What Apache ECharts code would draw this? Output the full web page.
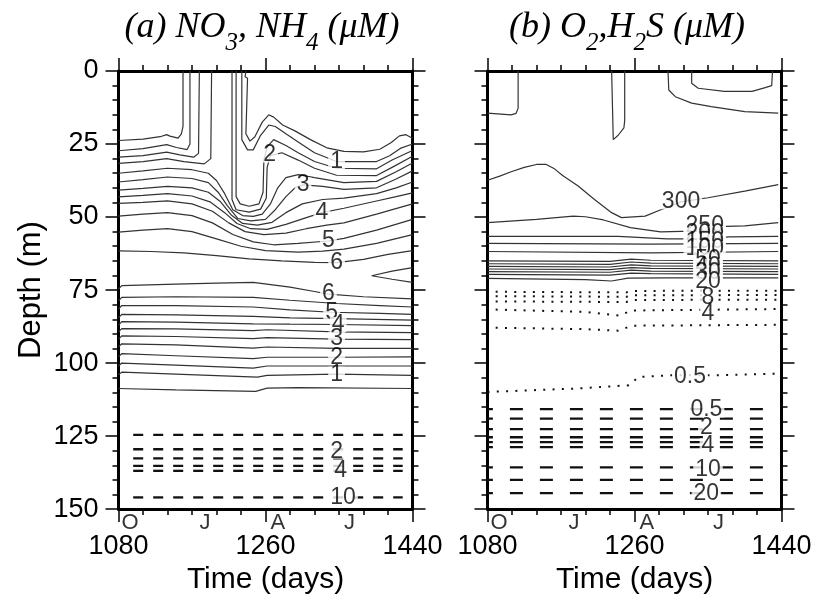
<!DOCTYPE html>
<html><head><meta charset="utf-8">
<script src="https://cdn.jsdelivr.net/npm/echarts@6/dist/echarts.min.js"></script>
<style>html,body{margin:0;padding:0;background:#fff}#c{width:818px;height:600px}</style>
</head><body><div id="c"></div>
<script>
// ================= DATA =================
const dayRange = [1080, 1440];
const depthRange = [0, 150];
const monthTicks = [[1094, 'O'], [1186, 'J'], [1275, 'A'], [1363, 'J']];

// Panel (a): NO3 contours (solid), [level, [[day, depth], ...]]
const no3Upper = [
  [0.5, [[1080,23.8],[1110,23.3],[1131,22.5],[1139,21.8],[1143,22.3],[1153,23],[1157,21.5],[1159,19],[1159,0]]],
  [0.5, [[1236,0],[1235,2],[1238,2.5],[1236,21.5],[1241,24],[1247,22.5],[1256,17.5],[1264,15],[1270,15.8],[1281,18.5],[1296,20.5],[1315,23.5],[1335,26.3],[1356,27.5],[1380,27.7],[1400,26.8],[1414,24.5],[1424,22.2],[1432,21.8],[1440,23]]],
  [1, [[1080,27.3],[1110,26.6],[1139,25.2],[1151,26.2],[1164,26.9],[1167.5,25],[1167.5,0]]],
  [1, [[1231,0],[1231,23.5],[1238,27],[1245,27],[1254,22],[1264,18.5],[1272,19],[1285,21.5],[1300,24.3],[1320,28],[1347,31],[1396,31],[1412,29],[1425,26.5],[1440,25]]],
  [1.5, [[1080,29.5],[1110,29],[1139,27.8],[1155,28.7],[1172,29.5],[1178,28.2],[1179,0]]],
  [1.5, [[1224,0],[1224,43],[1229,45.5],[1240,46.3],[1252,45.5],[1257,41.5],[1258,30.5],[1262,26],[1270,23.5],[1285,25.5],[1300,28],[1320,31],[1347,33.3],[1396,33.5],[1415,30.5],[1440,27.2]]],
  [2, [[1080,31.6],[1110,31],[1139,30],[1160,31],[1185,31.8],[1193,30],[1194,0]]],
  [2, [[1219,0],[1219,44],[1224,47.5],[1240,48.3],[1254,47.3],[1261,43.5],[1262,33],[1266,29],[1280,28],[1300,30.5],[1320,33.3],[1347,35.7],[1396,35.8],[1415,33],[1440,29.2]]],
  [2.5, [[1080,35],[1110,34.2],[1140,33.3],[1170,33.8],[1190,35],[1200,37.5],[1210,42],[1220,47.5],[1232,49.5],[1245,49.8],[1256,49],[1266,45.5],[1275,40],[1285,36.5],[1300,35.5],[1320,36.5],[1356,38.2],[1396,37.8],[1420,34.5],[1440,31.5]]],
  [3, [[1080,38],[1110,37.2],[1140,36.3],[1170,36.8],[1190,38.2],[1202,41.5],[1213,46],[1226,50.5],[1242,51.3],[1260,50.8],[1272,47.5],[1285,43],[1297,39.8],[1306,39],[1330,39.5],[1356,40.5],[1396,40],[1420,37],[1440,34.2]]],
  [3.5, [[1080,40.8],[1110,40.2],[1140,39.5],[1170,40],[1190,41.5],[1205,44.8],[1218,49.3],[1232,52.2],[1250,52.8],[1268,51.8],[1285,48.5],[1305,45.5],[1330,44],[1356,43.5],[1396,42],[1420,40],[1440,38]]],
  [4, [[1080,43.1],[1110,42.6],[1140,42],[1170,42.8],[1192,44.8],[1210,48.5],[1225,52.2],[1242,54],[1262,54.2],[1285,52.5],[1310,50.2],[1329,48.5],[1356,47],[1396,44.5],[1420,43],[1440,41.7]]],
  [4.5, [[1080,45.3],[1110,45],[1140,44.5],[1170,45.5],[1195,48],[1215,52],[1235,55],[1258,56],[1285,55.5],[1310,54],[1335,52.8],[1356,52],[1396,49],[1440,45.5]]],
  [5, [[1080,49.7],[1110,49],[1140,48.5],[1170,49.5],[1195,52],[1220,56],[1245,58.5],[1270,59.5],[1300,59],[1337,58.2],[1356,57.3],[1396,54.5],[1440,50.8]]],
  [5.5, [[1080,55.2],[1110,54.5],[1140,54],[1170,55],[1200,57.5],[1230,60],[1260,61.5],[1300,62],[1330,61.7],[1356,61],[1396,59],[1440,56]]],
  [6, [[1080,61.6],[1120,61.8],[1160,62.3],[1200,63.2],[1240,64.3],[1280,65],[1320,65.5],[1347,65.6],[1380,64.5],[1410,62.8],[1440,61.5]]],
  [6.5, [[1440,67.3],[1415,68.5],[1390,70.1],[1415,71.3],[1440,72.4]]]
];
const no3Lower = [
  [6, [[1080,74.7],[1084,73.5],[1150,73],[1200,72.6],[1245,72.4],[1290,74],[1320,75.5],[1337,76.4],[1380,77.3],[1440,78]]],
  [5.5, [[1080,78.7],[1084,77.5],[1150,77.3],[1245,77.5],[1290,78.5],[1347,79.6],[1400,80.3],[1440,80.8]]],
  [5, [[1080,81.5],[1084,80.3],[1150,80.3],[1245,80.8],[1290,81.8],[1341,82.6],[1400,83],[1440,83.3]]],
  [4.5, [[1080,84.5],[1084,83.3],[1150,83.5],[1245,84],[1290,84.5],[1347,84.8],[1440,85.3]]],
  [4, [[1080,87],[1084,85.8],[1150,86],[1245,86.6],[1290,86.7],[1349,86.8],[1440,87.2]]],
  [3.5, [[1080,89.3],[1084,88.2],[1150,88.3],[1245,88.9],[1262,88.6],[1347,89.3],[1440,89.6]]],
  [3, [[1080,91.8],[1084,90.7],[1150,90.9],[1245,91.6],[1262,91.3],[1347,91.8],[1440,92]]],
  [2.5, [[1080,94.4],[1084,93.4],[1150,93.8],[1245,94.9],[1262,94.5],[1347,95],[1440,95]]],
  [2, [[1080,97.8],[1084,96.8],[1150,97.5],[1245,98.5],[1262,98],[1347,98],[1440,97.9]]],
  [1.5, [[1080,101],[1084,100],[1150,100.7],[1245,101.7],[1262,101],[1347,101],[1440,101]]],
  [1, [[1080,104],[1084,103.1],[1150,103.8],[1250,104.8],[1262,104.2],[1347,103.8],[1440,104.2]]],
  [0.5, [[1080,108.7],[1150,109.2],[1248,109.7],[1262,108.6],[1300,108.4],[1440,108.7]]]
];
// NH4 contours (dashed), constant depth across [start, end]
const nh4Depths = [124.6, 129.5, 132.6, 135.2, 136.9, 146.0];
const nh4Span = [1098, 1428];
const no3Labels = [
  [1347,31.2,'1'],[1265,28.8,'2'],[1306,39,'3'],[1329,48.5,'4'],[1337,58.2,'5'],[1347,65.6,'6'],
  [1337,76.4,'6'],[1341,82.6,'5'],[1349,86.8,'4'],[1347,91.8,'3'],[1347,98,'2'],[1347,103.8,'1'],
  [1347,130.2,'2'],[1352,136.7,'4'],[1355,146,'10']
];

// Panel (b): O2 contours (solid)
const o2Solid = [
  [[1080,14.4],[1109,15],[1115,14.5],[1117.5,12.8],[1117.5,0]],
  [[1232,0],[1234,23.5],[1240,22],[1247,19.5],[1248,17],[1248,0]],
  [[1301,0],[1302,6.5],[1310,8.8],[1330,11],[1354,12.2],[1395,13.9],[1436,14.4]],
  [[1330,0],[1330,4.2],[1338,5.9],[1370,7],[1404,7],[1420,5.7],[1428,5],[1429,0]],
  [[1080,37.4],[1095,36],[1109,34.5],[1125,33],[1140,32],[1152,32],[1162,33.5],[1172,35.8],[1191,39.4],[1211,44],[1232,48.5],[1244,50.2],[1273,49.7],[1293,47.4],[1317,44.8],[1350,43.4],[1395,41.1],[1436,38.9]],
  [[1080,51.9],[1140,50.8],[1185,49.7],[1200,49.9],[1222,51],[1255,53.6],[1292,55.1],[1330,54.8],[1360,53.3],[1395,53],[1436,51.9]],
  [[1080,56.6],[1240,56.6],[1300,57.5],[1340,57.5],[1376,56.8],[1436,56.6]],
  [[1080,59],[1280,59.3],[1436,59]],
  [[1080,61.8],[1280,62.3],[1436,61.8]],
  [[1080,65.0],[1230,65.2],[1256,64.4],[1280,64.8],[1436,65.0]],
  [[1080,66.0],[1230,66.2],[1256,65.4],[1280,65.8],[1436,66.0]],
  [[1080,66.9],[1230,67.1],[1256,66.4],[1280,66.7],[1436,66.9]],
  [[1080,67.8],[1230,68.0],[1256,67.3],[1280,67.6],[1436,67.8]],
  [[1080,68.7],[1230,68.9],[1256,68.2],[1280,68.5],[1436,68.7]],
  [[1080,69.6],[1230,69.9],[1256,69.2],[1280,69.4],[1436,69.6]],
  [[1080,71.0],[1200,71.4],[1232,71.9],[1252,70.9],[1300,70.8],[1436,70.8]]
];
// O2 low levels (dotted)
const o2Dotted = [
  [[1090,75.6],[1250,75.8],[1258,75.3],[1436,75.2]],
  [[1090,77.1],[1250,77.3],[1258,76.8],[1436,76.7]],
  [[1090,78.9],[1250,79.1],[1258,78.4],[1436,78.3]],
  [[1090,81.7],[1200,82.5],[1241,83.7],[1257,82],[1436,81.5]],
  [[1090,87.9],[1200,88.4],[1240,88.9],[1257,87.2],[1436,86.9]],
  [[1080,109.9],[1190,108.7],[1253,107.6],[1265,104.8],[1301,104.2],[1354,104.2],[1436,103.6]]
];
// H2S contours (dashed)
const h2sDepths = [115.8, 119, 122.6, 125.4, 127.1, 128.8, 135.7, 140, 144.5];
const h2sSpan = [1080, 1430];
const o2Labels = [
  [1317,44.8,'300'],[1346,52.8,'250'],[1346,55.6,'200'],[1346,58.3,'150'],[1346,60.9,'100'],
  [1350,64.6,'50'],[1350,66.9,'40'],[1350,69.2,'30'],[1350,72.2,'20'],[1350,77.5,'8'],[1350,83.2,'4'],
  [1328,104.6,'0.5'],
  [1348,116.1,'0.5'],[1348,122.2,'2'],[1350,128.3,'4'],[1350,136.6,'10'],[1348,144.6,'20']
];

// ================= CHART =================
const FONT = "'Liberation Sans', Arial, Helvetica, sans-serif";
const SERIF = "'Liberation Serif', 'Times New Roman', serif";
const chart = echarts.init(document.getElementById('c'), null, {renderer: 'canvas', width: 818, height: 600});

const grids = [
  {left: 118.5, top: 71, width: 294, height: 440},
  {left: 487.5, top: 71, width: 294, height: 440}
];
const axLine = {show: true, onZero: false, lineStyle: {color: '#000', width: 3}};
const tick = {show: true, inside: false, length: 13, lineStyle: {color: '#000', width: 1.5}};
function xAx(g, pos) {
  return {
    gridIndex: g, type: 'value', position: pos, min: dayRange[0], max: dayRange[1], interval: 180,
    axisLine: axLine, axisTick: tick,
    minorTick: {show: true, splitNumber: 6, length: 6, lineStyle: {color: '#000', width: 1.5}},
    splitLine: {show: false}, minorSplitLine: {show: false},
    axisLabel: {show: pos === 'bottom', margin: 24, fontSize: 27, color: '#000', fontFamily: FONT,
      formatter: v => String(v)},
    name: pos === 'bottom' ? 'Time (days)' : '', nameLocation: 'middle', nameGap: 55,
    nameTextStyle: {fontSize: 30, color: '#000', fontFamily: FONT}
  };
}
function yAx(g, pos) {
  const lab = (g === 0 && pos === 'left');
  return {
    gridIndex: g, type: 'value', position: pos, min: depthRange[0], max: depthRange[1], interval: 25, inverse: true,
    axisLine: axLine, axisTick: tick,
    minorTick: {show: true, splitNumber: 5, length: 6, lineStyle: {color: '#000', width: 1.5}},
    splitLine: {show: false}, minorSplitLine: {show: false},
    axisLabel: {show: lab, margin: 20, fontSize: 27, color: '#000', fontFamily: FONT,
      formatter: v => String(v)},
    name: lab ? 'Depth (m)' : '', nameLocation: 'middle', nameGap: 72, nameRotate: 90,
    nameTextStyle: {fontSize: 31, color: '#000', fontFamily: FONT}
  };
}

const solidStyle = {color: '#333', width: 1.2};
const dashL = {color: '#111', width: 2.3, type: [10, 10]};
const dashR = {color: '#111', width: 2.3, type: [13, 17], dashOffset: 7.6};
const dotStyle = {color: '#111', width: 2, type: [2, 7.3]};

function line(pts, g, ls) {
  return {type: 'line', xAxisIndex: g * 2, yAxisIndex: g * 2, data: pts, symbol: 'none', showSymbol: false,
    silent: true, animation: false, lineStyle: ls, z: 2};
}
function labels(list, g) {
  return {type: 'scatter', xAxisIndex: g * 2, yAxisIndex: g * 2, symbolSize: 1, clip: false,
    itemStyle: {color: 'rgba(0,0,0,0)'}, silent: true, animation: false, z: 5,
    data: list.map(d => ({value: [d[0], d[1]], name: d[2]})),
    label: {show: true, position: 'inside', formatter: '{b}', fontSize: 23, fontFamily: FONT, color: '#000',
      backgroundColor: '#fff', padding: [0, 2], lineHeight: 15}};
}
function months(g) {
  return {type: 'scatter', xAxisIndex: g * 2, yAxisIndex: g * 2, symbolSize: 1, clip: false,
    itemStyle: {color: 'rgba(0,0,0,0)'}, silent: true, animation: false, z: 5,
    data: monthTicks.map(m => ({value: [m[0], depthRange[1]], name: m[1]})),
    label: {show: true, position: 'bottom', distance: 2, formatter: '{b}', fontSize: 22, fontFamily: FONT, color: '#000'}};
}

const series = [];
no3Upper.forEach(c => series.push(line(c[1], 0, solidStyle)));
no3Lower.forEach(c => series.push(line(c[1], 0, solidStyle)));
nh4Depths.forEach(d => series.push(line([[nh4Span[0], d], [nh4Span[1], d]], 0, dashL)));
series.push(labels(no3Labels, 0));
series.push(months(0));
o2Solid.forEach(p => series.push(line(p, 1, solidStyle)));
o2Dotted.forEach(p => series.push(line(p, 1, dotStyle)));
h2sDepths.forEach(d => series.push(line([[h2sSpan[0], d], [h2sSpan[1], d]], 1, dashR)));
series.push(labels(o2Labels, 1));
series.push(months(1));

const richT = {
  t: {fontFamily: SERIF, fontStyle: 'italic', fontSize: 36, fill: '#000'},
  s: {fontFamily: SERIF, fontStyle: 'italic', fontSize: 25, fill: '#000', padding: [30, 0, 0, 0]}
};

chart.setOption({
  animation: false,
  backgroundColor: '#fff',
  grid: grids,
  xAxis: [xAx(0, 'bottom'), xAx(0, 'top'), xAx(1, 'bottom'), xAx(1, 'top')],
  yAxis: [yAx(0, 'left'), yAx(0, 'right'), yAx(1, 'left'), yAx(1, 'right')],
  series: series,
  graphic: [
    {type: 'text', x: 262, y: 28, style: {text: '{t|(a) NO}{s|3}{t|, NH}{s|4}{t| (μM)}', rich: richT, align: 'center', verticalAlign: 'middle'}},
    {type: 'text', x: 627, y: 28, style: {text: '{t|(b) O}{s|2}{t|,H}{s|2}{t|S (μM)}', rich: richT, align: 'center', verticalAlign: 'middle'}}
  ]
});
</script></body></html>
